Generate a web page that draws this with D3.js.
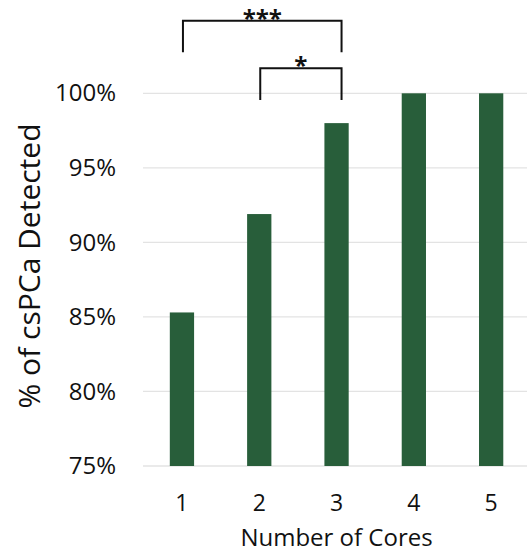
<!DOCTYPE html>
<html><head><meta charset="utf-8">
<script src="https://cdn.jsdelivr.net/npm/d3@7"></script>
<style>body{margin:0;background:#fff}svg{display:block}</style>
</head><body>
<script>
const categories = ["1","2","3","4","5"];
const values = [85.3, 91.9, 98.0, 100, 100];
const yTicks = [75, 80, 85, 90, 95, 100];
const brackets = [
  {from:"1", to:"3", label:"***", level:0},
  {from:"2", to:"3", label:"*", level:1}
];
const W = 527, H = 554;
const FONT = "'Open Sans', Lato, sans-serif";
const svg = d3.select("body").append("svg").attr("width", W).attr("height", H);
const x = d3.scaleBand().domain(categories).range([143.3, 529.8]).paddingInner(0.686).paddingOuter(0.343);
const y = d3.scaleLinear().domain([75, 100]).range([466, 93.3]);

// gridlines
svg.append("g").selectAll("line").data(yTicks).join("line")
  .attr("x1", 143).attr("x2", W).attr("y1", d => y(d)).attr("y2", d => y(d))
  .attr("stroke", "#e3e3e3").attr("stroke-width", 1.3);

// y tick labels
const yAxis = d3.axisLeft(y).tickValues(yTicks).tickFormat(d => d + "%").tickSize(0).tickPadding(0);
const ga = svg.append("g").attr("transform", "translate(116,0)").call(yAxis);
ga.select(".domain").remove();
ga.selectAll("text").attr("font-family", FONT).attr("font-size", 24).attr("fill", "#111");

// bars
svg.append("g").selectAll("rect").data(values).join("rect")
  .attr("x", (d, i) => x(categories[i])).attr("width", x.bandwidth())
  .attr("y", d => y(d)).attr("height", d => y(75) - y(d))
  .attr("fill", "#285e3a");

// x tick labels
const xAxis = d3.axisBottom(x).tickSize(0).tickPadding(0);
const gx = svg.append("g").attr("transform", "translate(0,511)").call(xAxis);
gx.select(".domain").remove();
gx.selectAll("text").attr("font-family", FONT).attr("font-size", 23).attr("fill", "#111")
  .attr("dy", 0);

// axis titles
svg.append("text").attr("x", 336.5).attr("y", 546).attr("text-anchor", "middle")
  .attr("font-family", FONT).attr("font-size", 24).attr("fill", "#111").text("Number of Cores");
svg.append("text").attr("transform", "translate(40,266) rotate(-90)").attr("text-anchor", "middle")
  .attr("font-family", FONT).attr("font-size", 30).attr("fill", "#111").text("% of csPCa Detected");

// significance brackets
const bTop = [20.7, 68.3], bBot = [52.3, 100];
brackets.forEach(b => {
  const x1 = x(b.from) + x.bandwidth()/2 + 1;
  const x2 = x(b.to) + x.bandwidth()/2 + 5;
  const t = bTop[b.level], bt = bBot[b.level];
  svg.append("path").attr("d", `M${x1},${bt}V${t}H${x2}V${bt}`)
    .attr("fill", "none").attr("stroke", "#111").attr("stroke-width", 2);
  svg.append("text").attr("x", (x1 + x2)/2).attr("y", t + 6).attr("text-anchor", "middle")
    .attr("font-family", FONT).attr("font-size", 24).attr("font-weight", "bold").attr("fill", "#111").text(b.label);
});
</script>
</body></html>
